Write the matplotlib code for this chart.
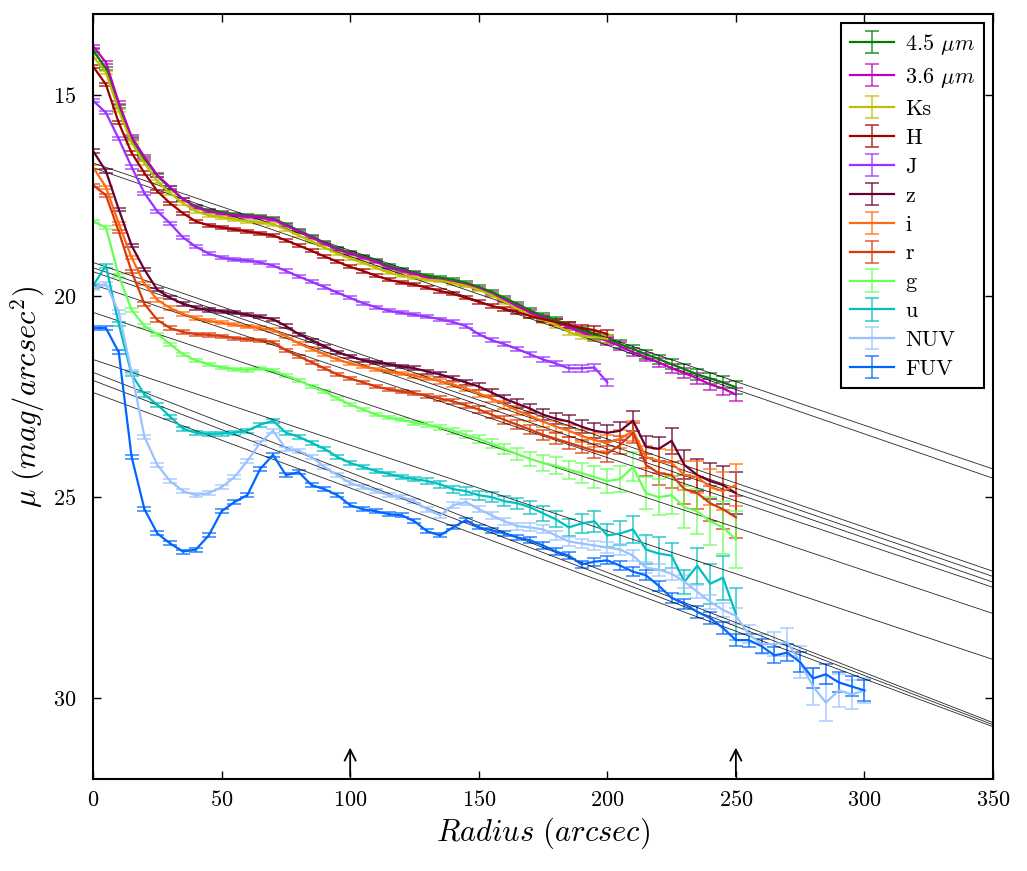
import numpy as np
import matplotlib.pyplot as plt

plt.rcParams['font.family'] = 'serif'
plt.rcParams['font.serif'] = ['cmr10']
plt.rcParams['mathtext.fontset'] = 'cm'
plt.rcParams['axes.formatter.use_mathtext'] = True
plt.rcParams['axes.unicode_minus'] = False

# radii (arcsec)
r_250 = np.arange(0, 251, 5)
r_200 = np.arange(0, 201, 5)
r_300 = np.arange(0, 301, 5)

# surface brightness profiles (mag/arcsec^2)
mu_45 = [13.90, 14.35, 15.30, 16.10, 16.60, 17.02, 17.32, 17.60, 17.78, 17.88,
         17.93, 17.98, 18.00, 18.03, 18.08, 18.22, 18.38, 18.52, 18.68, 18.82,
         18.92, 19.02, 19.12, 19.26, 19.35, 19.42, 19.50, 19.55, 19.60, 19.68,
         19.78, 19.90, 20.05, 20.20, 20.36, 20.50, 20.60, 20.72, 20.85, 20.97,
         21.07, 21.20, 21.32, 21.45, 21.57, 21.70, 21.82, 21.95, 22.05, 22.15,
         22.27]
mu_36 = [13.80, 14.20, 15.20, 16.05, 16.55, 17.00, 17.30, 17.60, 17.80, 17.90,
         17.95, 18.00, 18.02, 18.05, 18.10, 18.25, 18.40, 18.55, 18.70, 18.85,
         18.95, 19.05, 19.15, 19.30, 19.38, 19.45, 19.55, 19.60, 19.65, 19.72,
         19.82, 19.95, 20.10, 20.25, 20.42, 20.55, 20.65, 20.78, 20.90, 21.02,
         21.12, 21.25, 21.40, 21.52, 21.65, 21.80, 21.92, 22.05, 22.20, 22.30,
         22.45]
mu_ks = [14.05, 14.45, 15.40, 16.20, 16.70, 17.15, 17.45, 17.70, 17.90, 18.00,
         18.05, 18.10, 18.15, 18.18, 18.22, 18.35, 18.50, 18.65, 18.80, 18.95,
         19.07, 19.18, 19.30, 19.42, 19.50, 19.55, 19.60, 19.62, 19.68, 19.75,
         19.85, 19.98, 20.15, 20.32, 20.48, 20.60, 20.72, 20.90, 21.00, 21.02,
         21.07]
mu_h = [14.30, 14.75, 15.70, 16.45, 16.95, 17.40, 17.70, 17.95, 18.15, 18.25,
        18.30, 18.35, 18.40, 18.45, 18.50, 18.62, 18.75, 18.88, 19.02, 19.15,
        19.28, 19.38, 19.50, 19.60, 19.67, 19.72, 19.80, 19.88, 19.95, 20.05,
        20.15, 20.25, 20.32, 20.40, 20.50, 20.58, 20.65, 20.72, 20.80, 20.85,
        20.95]
mu_j = [15.15, 15.45, 16.10, 16.80, 17.45, 17.90, 18.20, 18.55, 18.78, 18.95,
        19.05, 19.10, 19.12, 19.17, 19.25, 19.38, 19.52, 19.65, 19.78, 19.92,
        20.05, 20.18, 20.28, 20.37, 20.42, 20.47, 20.52, 20.58, 20.65, 20.75,
        20.95, 21.10, 21.20, 21.32, 21.45, 21.58, 21.68, 21.80, 21.80, 21.78,
        22.15]
mu_z = [16.40, 16.90, 17.85, 18.75, 19.35, 19.85, 20.05, 20.20, 20.30, 20.35,
        20.38, 20.42, 20.47, 20.52, 20.58, 20.75, 20.95, 21.10, 21.25, 21.40,
        21.50, 21.60, 21.65, 21.70, 21.75, 21.80, 21.88, 21.95, 22.05, 22.15,
        22.25, 22.40, 22.55, 22.68, 22.80, 22.95, 23.05, 23.12, 23.25, 23.35,
        23.40, 23.35, 23.10, 23.75, 23.80, 23.60, 24.20, 24.45, 24.60, 24.70,
        24.90]
mu_i = [16.80, 17.30, 18.20, 19.05, 19.70, 20.10, 20.30, 20.45, 20.55, 20.62,
        20.67, 20.72, 20.77, 20.80, 20.85, 21.00, 21.18, 21.32, 21.45, 21.58,
        21.68, 21.75, 21.82, 21.88, 21.93, 21.98, 22.05, 22.12, 22.20, 22.30,
        22.42, 22.55, 22.70, 22.85, 22.98, 23.12, 23.25, 23.35, 23.48, 23.58,
        23.65, 23.55, 23.35, 24.00, 24.10, 24.15, 24.45, 24.50, 24.75, 24.85,
        24.70]
mu_r = [17.25, 17.50, 18.40, 19.40, 20.20, 20.60, 20.80, 20.90, 20.95, 20.97,
        21.00, 21.05, 21.08, 21.10, 21.15, 21.35, 21.50, 21.65, 21.80, 21.95,
        22.05, 22.15, 22.25, 22.32, 22.38, 22.42, 22.48, 22.55, 22.62, 22.72,
        22.82, 22.95, 23.08, 23.20, 23.32, 23.45, 23.55, 23.65, 23.75, 23.85,
        23.92, 23.70, 23.40, 24.20, 24.40, 24.45, 24.80, 24.90, 25.15, 25.30,
        25.50]
mu_g = [18.15, 18.30, 19.50, 20.35, 20.75, 20.95, 21.20, 21.45, 21.60, 21.70,
        21.78, 21.82, 21.84, 21.80, 21.85, 21.98, 22.10, 22.25, 22.37, 22.55,
        22.70, 22.82, 22.95, 23.02, 23.08, 23.15, 23.20, 23.27, 23.35, 23.45,
        23.55, 23.67, 23.80, 23.93, 24.05, 24.15, 24.22, 24.32, 24.40, 24.50,
        24.60, 24.55, 24.25, 24.90, 25.00, 24.95, 25.25, 25.35, 25.60, 25.75,
        26.05]
mu_u = [19.75, 19.25, 20.70, 21.95, 22.45, 22.70, 23.00, 23.30, 23.40, 23.43,
        23.42, 23.40, 23.35, 23.20, 23.10, 23.40, 23.50, 23.65, 23.80, 24.00,
        24.15, 24.25, 24.35, 24.42, 24.50, 24.55, 24.60, 24.68, 24.80, 24.85,
        24.95, 25.00, 25.10, 25.15, 25.25, 25.40, 25.55, 25.75, 25.65, 25.60,
        25.95, 25.90, 25.80, 26.30, 26.40, 26.45, 27.10, 26.70, 27.15, 27.00,
        27.90]
mu_nuv = [19.80, 19.70, 20.40, 21.90, 23.50, 24.20, 24.60, 24.85, 24.95, 24.90,
          24.75, 24.50, 24.10, 23.65, 23.35, 23.80, 23.85, 24.00, 24.25, 24.45,
          24.65, 24.75, 24.85, 24.95, 25.00, 25.10, 25.30, 25.45, 25.20, 25.12,
          25.30, 25.45, 25.60, 25.72, 25.75, 25.80, 25.95, 26.10, 26.15, 26.20,
          26.25, 26.30, 26.45, 26.75, 26.80, 26.90, 27.10, 27.35, 27.60, 27.80,
          27.95, 28.40, 28.65, 28.65, 28.60, 29.10, 29.70, 30.10, 29.80, 29.90,
          29.80]
mu_fuv = [20.80, 20.80, 21.40, 24.00, 25.30, 25.90, 26.15, 26.35, 26.30, 25.95,
          25.35, 25.12, 24.95, 24.30, 23.95, 24.45, 24.38, 24.70, 24.80, 24.95,
          25.20, 25.30, 25.35, 25.42, 25.45, 25.60, 25.85, 25.95, 25.75, 25.57,
          25.75, 25.82, 25.90, 26.00, 26.07, 26.20, 26.35, 26.45, 26.67, 26.60,
          26.57, 26.70, 26.85, 26.94, 27.20, 27.50, 27.65, 27.85, 28.00, 28.25,
          28.55, 28.55, 28.70, 28.93, 28.86, 29.10, 29.50, 29.40, 29.60, 29.70,
          29.80]

# 1-sigma errors
err_ir = [0.04] * 31 + [0.05, 0.05, 0.06, 0.06, 0.07, 0.07, 0.08, 0.08, 0.09, 0.09,
                        0.10, 0.10, 0.11, 0.11, 0.12, 0.12, 0.13, 0.14, 0.15, 0.16]
err_nir = [0.04] * 31 + [0.05, 0.05, 0.06, 0.06, 0.07, 0.07, 0.08, 0.08, 0.09, 0.09]
err_opt = [0.04] * 25 + [0.05, 0.05, 0.06, 0.06, 0.07, 0.08, 0.09, 0.10, 0.11, 0.12,
                         0.13, 0.14, 0.15, 0.16, 0.18, 0.20, 0.22, 0.25, 0.27, 0.30,
                         0.33, 0.36, 0.40, 0.44, 0.48, 0.52]
err_g = [0.04] * 25 + [0.05, 0.06, 0.07, 0.08, 0.09, 0.10, 0.12, 0.13, 0.15, 0.17,
                       0.19, 0.21, 0.23, 0.25, 0.28, 0.30, 0.33, 0.36, 0.40, 0.44,
                       0.48, 0.52, 0.56, 0.60, 0.65, 0.70]
err_u = [0.05] * 25 + [0.06, 0.07, 0.08, 0.09, 0.10, 0.11, 0.12, 0.13, 0.14, 0.16,
                       0.18, 0.20, 0.22, 0.24, 0.26, 0.28, 0.30, 0.33, 0.36, 0.40,
                       0.30, 0.30, 0.45, 0.50, 0.55, 0.65]
err_nuv = [0.05] * 25 + [0.05, 0.06, 0.06, 0.07, 0.07, 0.08, 0.08, 0.09, 0.09, 0.10,
                         0.10, 0.11, 0.11, 0.12, 0.12, 0.13, 0.13, 0.14, 0.14, 0.15,
                         0.15, 0.16, 0.16, 0.17, 0.18, 0.20, 0.22, 0.25, 0.30, 0.35,
                         0.40, 0.45, 0.45, 0.40, 0.35, 0.30]
err_fuv = [0.05] * 30 + [0.05, 0.06, 0.06, 0.07, 0.07, 0.08, 0.08, 0.09, 0.09, 0.10,
                         0.10, 0.11, 0.11, 0.12, 0.12, 0.13, 0.13, 0.14, 0.14, 0.15,
                         0.15, 0.16, 0.18, 0.20, 0.22, 0.25, 0.25, 0.25, 0.25, 0.25,
                         0.25]

labels = ['4.5 $\\mu m$', '3.6 $\\mu m$', 'Ks', 'H', 'J', 'z', 'i', 'r', 'g', 'u', 'NUV', 'FUV']
colors = ['#008000', '#bf00bf', '#bfbf00', '#a00000', '#9933ff', '#660033',
          '#ff6a10', '#d63a0a', '#66ff55', '#00bfbf', '#99c2ff', '#0066ff']

# exponential disc fits: mu at r=0 and at r=350
fit_mu0 = [16.70, 16.82, 19.17, 19.30, 19.40, 19.72, 20.41, 21.58, 21.90, 22.10, 22.40]
fit_mu350 = [24.30, 24.53, 26.84, 26.97, 27.11, 27.24, 27.89, 29.03, 30.60, 30.65, 30.70]

# fit range markers
arrow_r = [100, 250]

profiles = [(r_250, mu_45, err_ir), (r_250, mu_36, err_ir), (r_200, mu_ks, err_nir),
            (r_200, mu_h, err_nir), (r_200, mu_j, err_nir), (r_250, mu_z, err_opt),
            (r_250, mu_i, err_opt), (r_250, mu_r, err_opt), (r_250, mu_g, err_g),
            (r_250, mu_u, err_u), (r_300, mu_nuv, err_nuv), (r_300, mu_fuv, err_fuv)]

fig = plt.figure(figsize=(10.27, 8.71), dpi=100)
ax = fig.add_axes([0.0906, 0.1056, 0.8763, 0.8783])

for (r, mu, err), col, lab in zip(profiles, colors, labels):
    line, caps, bars = ax.errorbar(r, mu, yerr=err, color=col, lw=1.6, elinewidth=1.3,
                                   capsize=5, capthick=1.3, label=lab)
    for c in caps:
        c.set_alpha(0.7)
    for b in bars:
        b.set_alpha(0.7)

r_fit = np.array([0, 350])
for m0, m1 in zip(fit_mu0, fit_mu350):
    ax.plot(r_fit, [m0, m1], color='k', lw=0.6, alpha=0.85)

for ra in arrow_r:
    ax.annotate('', xy=(ra, 31.15), xytext=(ra, 32.0),
                arrowprops=dict(arrowstyle='->', lw=1.3, color='k', mutation_scale=20))

ax.set_xlim(0, 350)
ax.set_ylim(32, 13)
ax.set_xticks(np.arange(0, 351, 50))
ax.set_yticks([15, 20, 25, 30])
ax.tick_params(direction='in', length=6, width=1, top=True, right=True, labelsize=16)
ax.tick_params(axis='x', pad=8)
ax.tick_params(axis='y', pad=12)
for s in ax.spines.values():
    s.set_linewidth(1.5)

ax.set_xlabel(r'$Radius\ (arcsec)$', fontsize=22)
ax.set_ylabel(r'$\mu\ (mag/arcsec^2)$', fontsize=22)

leg = ax.legend(loc='upper right', fontsize=16, labelspacing=0.42, handlelength=2.0,
                handletextpad=0.5, fancybox=False, edgecolor='k', framealpha=1,
                borderaxespad=0.4)
leg.get_frame().set_linewidth(1.5)

fig.savefig('out.png', dpi=100)
